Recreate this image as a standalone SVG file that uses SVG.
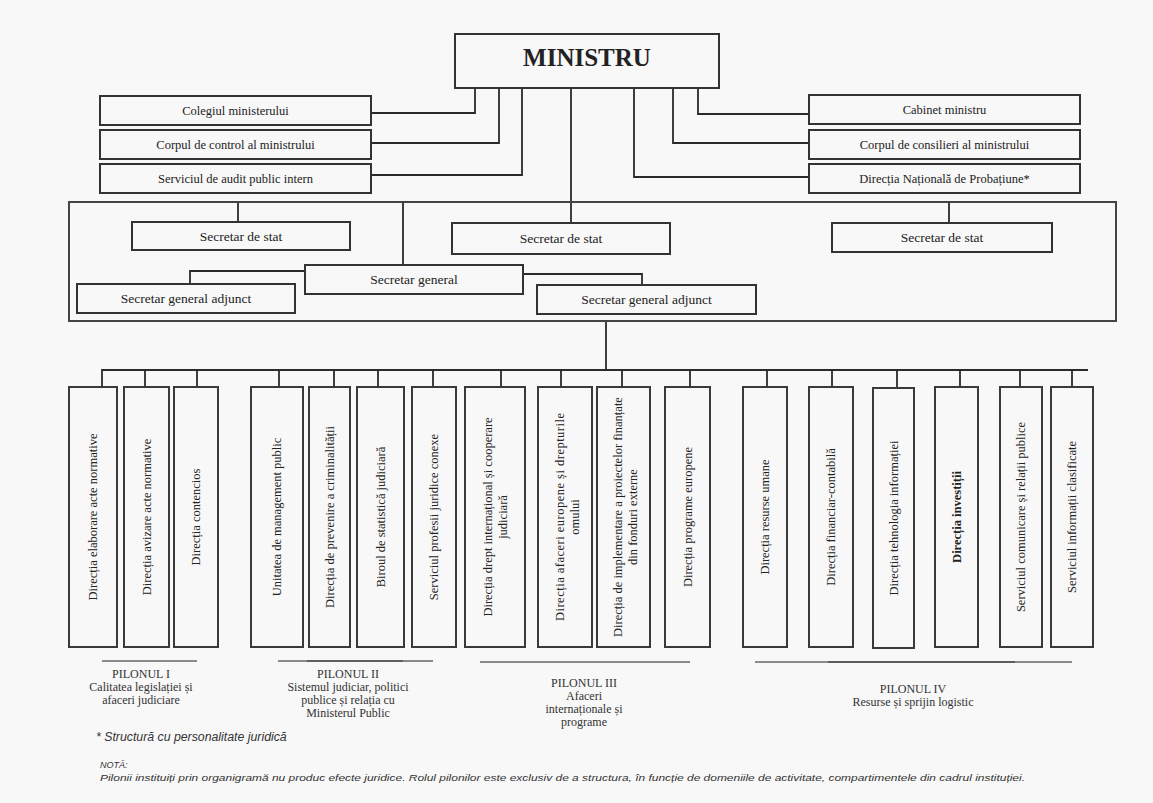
<svg xmlns="http://www.w3.org/2000/svg" width="1153" height="803" viewBox="0 0 1153 803">
<style>
.bx{fill:#f8f8f8;stroke:#333;stroke-width:2}
.vb{fill:#f8f8f8;stroke:#3a3a3a;stroke-width:2}
.cn{fill:none;stroke:#2a2a2a;stroke-width:1.8}
.t{font-family:"Liberation Serif","Times New Roman",serif;fill:#222;text-anchor:middle}
.s12{font-size:12.5px}
.s13{font-size:13.5px}
.vt{font-family:"Liberation Serif","Times New Roman",serif;fill:#222;text-anchor:middle;font-size:12.5px;dominant-baseline:central}
.pl{font-family:"Liberation Serif","Times New Roman",serif;fill:#333;text-anchor:middle;font-size:12px}
.pline{stroke:#8a8a8a;stroke-width:2.2}
.pdark{stroke:#333;stroke-width:1.2}
.note{font-family:"Liberation Sans",Arial,sans-serif;font-style:italic;fill:#333}
</style>
<rect x="0" y="0" width="1153" height="803" fill="#f8f8f8"/>

<g id="connectors">
<polyline class="cn" points="475,88 475,113 371,113"/>
<polyline class="cn" points="499,88 499,143 371,143"/>
<polyline class="cn" points="522,88 522,175 371,175"/>
<polyline class="cn" points="571,88 571,223"/>
<polyline class="cn" points="634,88 634,177 809,177"/>
<polyline class="cn" points="673,88 673,143 809,143"/>
<polyline class="cn" points="698,88 698,114 809,114"/>
<line class="cn" x1="238" y1="202" x2="238" y2="222"/>
<line class="cn" x1="949" y1="202" x2="949" y2="223"/>
<line class="cn" x1="403" y1="202" x2="403" y2="265"/>
<polyline class="cn" points="305,271 190,271 190,284"/>
<polyline class="cn" points="523,274 642,274 642,285"/>
<line class="cn" x1="606" y1="321" x2="606" y2="370"/>
<polyline class="cn" points="102,387 102,370 1088,370"/>
<line class="cn" x1="145" y1="370" x2="145" y2="387"/>
<line class="cn" x1="197" y1="370" x2="197" y2="387"/>
<line class="cn" x1="279" y1="370" x2="279" y2="387"/>
<line class="cn" x1="334" y1="370" x2="334" y2="387"/>
<line class="cn" x1="378" y1="370" x2="378" y2="387"/>
<line class="cn" x1="433" y1="370" x2="433" y2="387"/>
<line class="cn" x1="501" y1="370" x2="501" y2="387"/>
<line class="cn" x1="561" y1="370" x2="561" y2="387"/>
<line class="cn" x1="622" y1="370" x2="622" y2="387"/>
<line class="cn" x1="690" y1="370" x2="690" y2="387"/>
<line class="cn" x1="767" y1="370" x2="767" y2="387"/>
<line class="cn" x1="832" y1="370" x2="832" y2="387"/>
<line class="cn" x1="897" y1="370" x2="897" y2="388"/>
<line class="cn" x1="960" y1="370" x2="960" y2="387"/>
<line class="cn" x1="1020" y1="370" x2="1020" y2="387"/>
<line class="cn" x1="1072" y1="370" x2="1072" y2="387"/>
</g>

<g id="ministru">
<rect class="bx" x="455" y="34" width="264" height="54"/>
<text class="t" x="587" y="66" font-size="25" font-weight="bold" fill="#111">MINISTRU</text>
</g>

<g id="colegiul">
<rect class="bx" x="100" y="96" width="271" height="29"/>
<text class="t s12" x="235.5" y="115">Colegiul ministerului</text>
</g>
<g id="corpul-control">
<rect class="bx" x="100" y="130" width="271" height="29"/>
<text class="t s12" x="235.5" y="149">Corpul de control al ministrului</text>
</g>
<g id="audit">
<rect class="bx" x="100" y="164" width="271" height="29"/>
<text class="t s12" x="235.5" y="183">Serviciul de audit public intern</text>
</g>

<g id="cabinet">
<rect class="bx" x="809" y="95" width="271" height="29"/>
<text class="t s12" x="944.5" y="114">Cabinet ministru</text>
</g>
<g id="consilieri">
<rect class="bx" x="809" y="130" width="271" height="29"/>
<text class="t s12" x="944.5" y="149">Corpul de consilieri al ministrului</text>
</g>
<g id="probatiune">
<rect class="bx" x="809" y="164" width="271" height="29"/>
<text class="t s12" x="944.5" y="183">Direcția Națională de Probațiune*</text>
</g>

<g id="container">
<rect x="69" y="202" width="1047" height="119" fill="none" stroke="#444" stroke-width="2"/>
</g>

<g id="sds-left">
<rect class="bx" x="132" y="222" width="218" height="28"/>
<text class="t s13" x="241" y="241">Secretar de stat</text>
</g>
<g id="sds-middle">
<rect class="bx" x="452" y="223" width="218" height="31"/>
<text class="t s13" x="561" y="243">Secretar de stat</text>
</g>
<g id="sds-right">
<rect class="bx" x="832" y="223" width="220" height="29"/>
<text class="t s13" x="942" y="242">Secretar de stat</text>
</g>
<g id="sg">
<rect class="bx" x="305" y="265" width="218" height="29"/>
<text class="t s13" x="414" y="284">Secretar general</text>
</g>
<g id="sga-left">
<rect class="bx" x="77" y="284" width="218" height="29"/>
<text class="t s13" x="186" y="303">Secretar general adjunct</text>
</g>
<g id="sga-right">
<rect class="bx" x="537" y="285" width="219" height="29"/>
<text class="t s13" x="646.5" y="304">Secretar general adjunct</text>
</g>

<g id="d1"><rect class="vb" x="69" y="387" width="48" height="260"/>
<text class="vt" transform="translate(93,517) rotate(-90)">Direcția elaborare acte normative</text></g>
<g id="d2"><rect class="vb" x="124" y="387" width="45" height="260"/>
<text class="vt" transform="translate(146.5,517) rotate(-90)">Direcția avizare acte normative</text></g>
<g id="d3"><rect class="vb" x="174" y="387" width="44" height="260"/>
<text class="vt" transform="translate(196,517) rotate(-90)">Direcția contencios</text></g>
<g id="d4"><rect class="vb" x="251" y="387" width="52" height="260"/>
<text class="vt" transform="translate(277,517) rotate(-90)">Unitatea de management public</text></g>
<g id="d5"><rect class="vb" x="309" y="387" width="41" height="260"/>
<text class="vt" transform="translate(329.5,517) rotate(-90)">Direcția de prevenire a criminalității</text></g>
<g id="d6"><rect class="vb" x="357" y="387" width="47" height="260"/>
<text class="vt" transform="translate(380.5,517) rotate(-90)">Biroul de statistică judiciară</text></g>
<g id="d7"><rect class="vb" x="412" y="387" width="44" height="260"/>
<text class="vt" transform="translate(434,517) rotate(-90)">Serviciul profesii juridice conexe</text></g>
<g id="d8"><rect class="vb" x="465" y="387" width="60" height="260"/>
<text class="vt" transform="translate(495.5,517) rotate(-90)"><tspan x="0" y="-7.5">Direcția drept internațional și cooperare</tspan><tspan x="0" y="7.5">judiciară</tspan></text></g>
<g id="d9"><rect class="vb" x="538" y="387" width="54" height="260"/>
<text class="vt" transform="translate(567.5,517) rotate(-90)"><tspan x="0" y="-7.5" textLength="208" lengthAdjust="spacing">Direcția afaceri europene și drepturile</tspan><tspan x="0" y="7.5">omului</tspan></text></g>
<g id="d10"><rect class="vb" x="597" y="387" width="53" height="260"/>
<text class="vt" transform="translate(625.5,517) rotate(-90)"><tspan x="0" y="-7.5">Direcția de implementare a proiectelor finanțate</tspan><tspan x="0" y="7.5">din fonduri externe</tspan></text></g>
<g id="d11"><rect class="vb" x="665" y="387" width="45" height="260"/>
<text class="vt" transform="translate(687.5,517) rotate(-90)">Direcția programe europene</text></g>
<g id="d12"><rect class="vb" x="743" y="387" width="44" height="260"/>
<text class="vt" transform="translate(765,517) rotate(-90)">Direcția resurse umane</text></g>
<g id="d13"><rect class="vb" x="809" y="387" width="44" height="260"/>
<text class="vt" transform="translate(831,517) rotate(-90)">Direcția financiar-contabilă</text></g>
<g id="d14"><rect class="vb" x="873" y="388" width="41" height="260"/>
<text class="vt" transform="translate(893.5,518) rotate(-90)">Direcția tehnologia informației</text></g>
<g id="d15"><rect class="vb" x="935" y="387" width="43" height="260"/>
<text class="vt" transform="translate(956.5,517) rotate(-90)" font-weight="bold">Direcția investiții</text></g>
<g id="d16"><rect class="vb" x="1000" y="387" width="42" height="260"/>
<text class="vt" transform="translate(1021,517) rotate(-90)">Serviciul comunicare și relații publice</text></g>
<g id="d17"><rect class="vb" x="1051" y="387" width="42" height="260"/>
<text class="vt" transform="translate(1072,517) rotate(-90)">Serviciul informații clasificate</text></g>

<g id="pilon1">
<line class="pline" x1="102" y1="661" x2="197" y2="661"/>
<text class="pl" x="141" y="678">PILONUL I</text>
<text class="pl" x="141" y="691">Calitatea legislației și</text>
<text class="pl" x="141" y="704">afaceri judiciare</text>
</g>
<g id="pilon2">
<line class="pline" x1="278" y1="661" x2="433" y2="661"/>
<line class="pdark" x1="307" y1="661" x2="403" y2="661"/>
<text class="pl" x="348" y="678">PILONUL II</text>
<text class="pl" x="348" y="691">Sistemul judiciar,  politici</text>
<text class="pl" x="348" y="704">publice  și  relația  cu</text>
<text class="pl" x="348" y="717">Ministerul Public</text>
</g>
<g id="pilon3">
<line class="pline" x1="480" y1="662" x2="690" y2="662"/>
<text class="pl" x="584" y="687">PILONUL III</text>
<text class="pl" x="584" y="700">Afaceri</text>
<text class="pl" x="584" y="713">internaționale și</text>
<text class="pl" x="584" y="726">programe</text>
</g>
<g id="pilon4">
<line class="pline" x1="755" y1="662" x2="1072" y2="662"/>
<line class="pdark" x1="828" y1="662" x2="1015" y2="662"/>
<text class="pl" x="913" y="693">PILONUL IV</text>
<text class="pl" x="913" y="706">Resurse și sprijin logistic</text>
</g>

<g id="notes">
<text class="note" x="96" y="741" font-size="12.3">* Structură cu personalitate juridică</text>
<text class="note" x="100" y="768" font-size="9">NOTĂ:</text>
<text class="note" x="100" y="781" font-size="9.5" textLength="925" lengthAdjust="spacingAndGlyphs">Pilonii instituiți prin organigramă nu produc efecte juridice. Rolul pilonilor este exclusiv de a structura, în funcție de domeniile de activitate, compartimentele din cadrul instituției.</text>
</g>
</svg>
